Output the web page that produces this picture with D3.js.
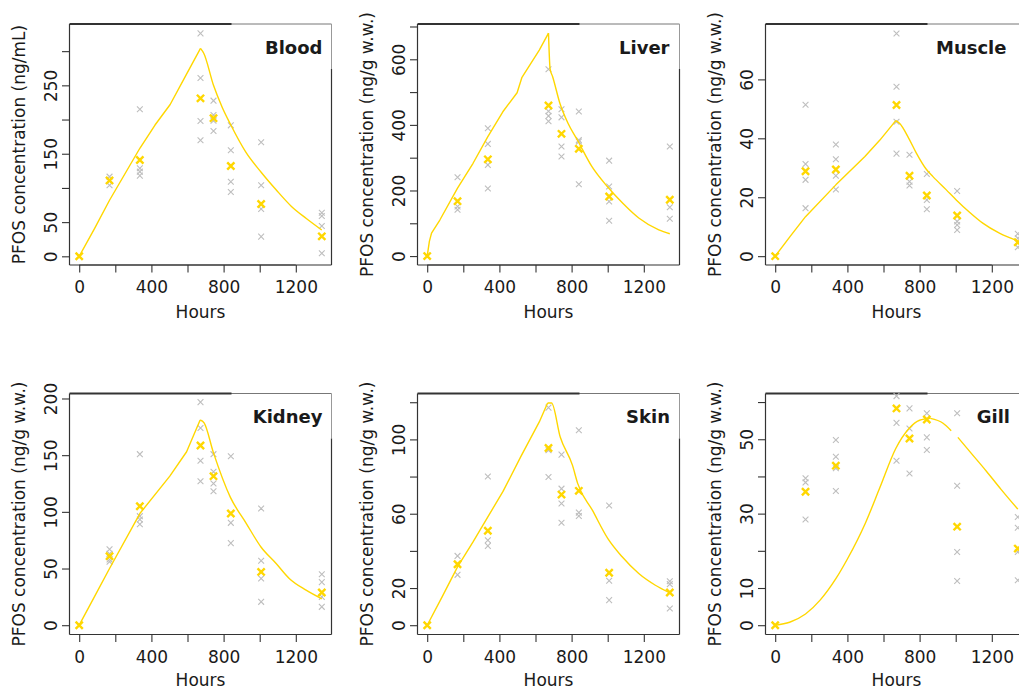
<!DOCTYPE html>
<html>
<head>
<meta charset="utf-8">
<script src="https://cdn.jsdelivr.net/npm/d3@7"></script>
<style>
  html, body { margin: 0; padding: 0; background: #ffffff; }
  svg { display: block; }
  text { font-family: "DejaVu Sans", Verdana, sans-serif; fill: #1a1a1a; }
</style>
</head>
<body>
<svg id="chart" width="1019" height="688"></svg>
<script>
// ---------------- DATA ----------------
const sampleHours = [0, 168, 336, 672, 744, 840, 1008, 1344];
const xTicks = [0, 200, 400, 600, 800, 1000, 1200];
const xTickLabels = [0, 400, 800, 1200];
const xDomain = [-53.76, 1397.76];

const tissueNames = ["Blood", "Liver", "Muscle", "Kidney", "Skin", "Gill"];
const yAxisTitles = [
  "PFOS concentration (ng/mL)",
  "PFOS concentration (ng/g w.w.)",
  "PFOS concentration (ng/g w.w.)",
  "PFOS concentration (ng/g w.w.)",
  "PFOS concentration (ng/g w.w.)",
  "PFOS concentration (ng/g w.w.)"
];

// Blood
const bloodReplicates = [[], [116.5, 110, 103.8], [215, 128.7, 123.8, 118], [326, 260.7, 197.9, 169.6],
  [227.6, 206.6, 198.3, 183.2], [191.5, 155, 109, 94], [166.7, 103.8, 69.2, 28.8], [63.8, 59, 44.3, 4.4]];
const bloodMeans = [0, 111, 140.8, 231, 202, 132, 76.5, 29.2];
const bloodModelHours = [0, 84, 168, 252, 336, 420, 504, 588, 672, 690, 744, 792, 840, 924, 1008, 1092, 1176, 1260, 1344];
const bloodModelValues = [0, 40, 82, 120, 158, 192, 222, 263, 304, 297, 250, 218, 192, 152, 123, 97, 73, 55, 38.5];
const bloodYTicks = [0, 50, 100, 150, 200, 250, 300];
const bloodYLabels = [0, 50, 150, 250];
const bloodYDomain = [-12.7, 339.7];

// Liver
const liverReplicates = [[], [240.6, 151, 141], [390, 342, 278, 206], [569.5, 441.6, 427.4, 411],
  [447.7, 423, 334, 303.6], [440.6, 354, 349, 219], [291, 212, 166.5, 107.6], [334, 149, 113.7]];
const liverMeans = [0, 167.5, 295, 459, 372.6, 327, 181.7, 171.6];
const liverModelHours = [0, 12, 24, 70, 168, 254, 336, 419, 498, 525, 621, 672, 681, 695, 735, 780, 832, 910, 998, 1085, 1172, 1283, 1344];
const liverModelValues = [0, 45, 70, 110, 207, 283, 364, 440, 498, 545, 628, 680, 570, 547, 466, 405, 354, 275, 212, 160, 116, 80, 68];
const liverYTicks = [0, 100, 200, 300, 400, 500, 600, 700];
const liverYLabels = [0, 200, 400, 600];
const liverYDomain = [-27.2, 707.6];

// Muscle
const muscleReplicates = [[], [51.4, 31.3, 25.9, 16.3], [37.9, 32.9, 27.3, 22.6], [75.6, 57.5, 45.6, 34.8],
  [34.4, 25.3, 24.0], [27.9, 19.1, 15.9], [22.1, 11.8, 10.6, 8.9], [7.6, 6.1, 3.0]];
const muscleMeans = [0, 28.8, 29.4, 51.3, 27.3, 20.6, 13.8, 4.7];
const muscleModelHours = [0, 84, 168, 336, 497, 580, 668, 690, 740, 782, 837, 874, 948, 1003, 1075, 1150, 1242, 1344];
const muscleModelValues = [0, 6.8, 13.4, 24.2, 33.8, 39.4, 46, 45, 40, 35, 29.5, 27, 22.5, 19.1, 15, 11.2, 7.8, 5.2];
const muscleYTicks = [0, 20, 40, 60];
const muscleYLabels = [0, 20, 40, 60];
const muscleYDomain = [-3.0, 78.8];

// Kidney
const kidneyReplicates = [[], [67, 63, 58, 56], [150.9, 96.2, 93.2, 89.1], [196.8, 174, 145, 127],
  [150.9, 135.3, 125, 118.2], [149, 90.3, 72.4], [103, 56.8, 41.2, 20.6], [45, 38, 25, 16.2]];
const kidneyMeans = [0, 60.9, 105, 158.5, 131.5, 98.5, 47, 28.8];
const kidneyModelHours = [0, 84, 168, 336, 502, 595, 670, 692, 744, 837, 926, 1007, 1091, 1165, 1257, 1344];
const kidneyModelValues = [0, 25, 50, 98.5, 131.5, 153, 181, 178.5, 152, 113, 89.7, 69, 54.4, 41, 30.9, 23.3];
const kidneyYTicks = [0, 50, 100, 150, 200];
const kidneyYLabels = [0, 50, 100, 150, 200];
const kidneyYDomain = [-8.2, 204.4];

// Skin
const skinReplicates = [[], [37.3, 33, 27.1], [80, 45.7, 42.7], [117.1, 94.2, 79.8],
  [91.8, 73.5, 65.5, 55.1], [104.9, 60.6, 58.8], [64.4, 28, 23.9, 13.5], [23.7, 22.1, 9]];
const skinMeans = [0, 32.8, 50.8, 95.4, 70.3, 72.3, 28.2, 17.6];
const skinModelHours = [0, 84, 168, 254, 336, 420, 520, 621, 667, 689, 737, 805, 834, 915, 1001, 1080, 1172, 1264, 1344];
const skinModelValues = [0, 15.5, 31.4, 44.8, 58.3, 72, 91, 109.4, 119.6, 119.6, 101.3, 86, 76.2, 61.9, 46.6, 36.8, 27.8, 21.5, 17.4];
const skinYTicks = [0, 20, 40, 60, 80, 100, 120];
const skinYLabels = [0, 20, 60, 100];
const skinYDomain = [-5.0, 124.7];

// Gill (the model curve has a short break near 1000 h, as in the figure)
const gillReplicates = [[], [39.5, 38.4, 28.4], [49.8, 45.3, 42.2, 36.1], [61.6, 54.4, 44.2],
  [58.3, 52.9, 40.8], [57, 50.5, 47.1], [57, 37.5, 19.7, 11.9], [29.1, 26.2, 19.7, 12.1]];
const gillMeans = [0, 35.9, 42.9, 58.3, 50.2, 55.3, 26.5, 20.6];
const gillModelHours = [0, 80, 168, 250, 336, 400, 500, 580, 668, 740, 800, 860, 930, 975, 993, 1012, 1090, 1170, 1250, 1344];
const gillModelValues = [0, 0.8, 3, 6.8, 12.5, 17.8, 27.5, 37, 47.5, 52.8, 55.1, 55.6, 54.3, 52.3, null, 50.5, 46, 41.4, 36.6, 31.2];
const gillYTicks = [0, 10, 20, 30, 40, 50, 60];
const gillYLabels = [0, 10, 30, 50];
const gillYDomain = [-2.5, 62.3];

// ---------------- ASSEMBLY ----------------
const panels = [
  { reps: bloodReplicates, means: bloodMeans, mh: bloodModelHours, mv: bloodModelValues, yt: bloodYTicks, yl: bloodYLabels, yd: bloodYDomain, smoothUptake: false },
  { reps: liverReplicates, means: liverMeans, mh: liverModelHours, mv: liverModelValues, yt: liverYTicks, yl: liverYLabels, yd: liverYDomain, smoothUptake: false },
  { reps: muscleReplicates, means: muscleMeans, mh: muscleModelHours, mv: muscleModelValues, yt: muscleYTicks, yl: muscleYLabels, yd: muscleYDomain, smoothUptake: false },
  { reps: kidneyReplicates, means: kidneyMeans, mh: kidneyModelHours, mv: kidneyModelValues, yt: kidneyYTicks, yl: kidneyYLabels, yd: kidneyYDomain, smoothUptake: false },
  { reps: skinReplicates, means: skinMeans, mh: skinModelHours, mv: skinModelValues, yt: skinYTicks, yl: skinYLabels, yd: skinYDomain, smoothUptake: false },
  { reps: gillReplicates, means: gillMeans, mh: gillModelHours, mv: gillModelValues, yt: gillYTicks, yl: gillYLabels, yd: gillYDomain, smoothUptake: true }
];

// ---------------- LAYOUT ----------------
const colLeft = [69.5, 417.5, 765.5];
const rowTop = [24, 393.5];
const boxW = 262, boxH = 241;
const titleInset = [9, 10, 21, 9, 9.5, 17.5];
const titleDrop = [30, 30, 30, 29.5, 29.5, 29.5];
const GOLD = "#FFD700";
const GREY = "#BEBEBE";
const DARK = "#333333";

const svg = d3.select("#chart");

function crossPath(a) {
  return `M${-a},${-a}L${a},${a}M${-a},${a}L${a},${-a}`;
}

panels.forEach((p, i) => {
  const row = Math.floor(i / 3);
  const left = colLeft[i % 3];
  const top = rowTop[row];
  const g = svg.append("g");

  const x = d3.scaleLinear().domain(xDomain).range([left, left + boxW]);
  const y = d3.scaleLinear().domain(p.yd).range([top + boxH, top]);

  // box (with the lighter top-right portion seen in the figure)
  g.append("line").attr("x1", left).attr("x2", left).attr("y1", top).attr("y2", top + boxH)
    .attr("stroke", DARK).attr("stroke-width", 1.2);
  g.append("line").attr("x1", left).attr("x2", left + boxW).attr("y1", top + boxH).attr("y2", top + boxH)
    .attr("stroke", DARK).attr("stroke-width", 1.2);
  g.append("line").attr("x1", left + 160).attr("x2", left + boxW).attr("y1", top).attr("y2", top)
    .attr("stroke", "#777").attr("stroke-width", 1);
  g.append("line").attr("x1", left).attr("x2", left + 162).attr("y1", top).attr("y2", top)
    .attr("stroke", DARK).attr("stroke-width", 1.8);
  g.append("line").attr("x1", left + boxW).attr("x2", left + boxW).attr("y1", top).attr("y2", top + 45)
    .attr("stroke", "#999").attr("stroke-width", 1);
  g.append("line").attr("x1", left + boxW).attr("x2", left + boxW).attr("y1", top + 45).attr("y2", top + boxH)
    .attr("stroke", DARK).attr("stroke-width", 1.2);

  // x axis
  const xAxis = d3.axisBottom(x).tickValues(xTicks).tickSize(7.5)
    .tickFormat(d => xTickLabels.includes(d) ? String(d) : "");
  const gx = g.append("g").attr("transform", `translate(0,${top + boxH})`).call(xAxis);
  gx.select(".domain").attr("stroke", DARK).attr("d", `M${x(xTicks[0])},0H${x(xTicks[xTicks.length - 1])}`);
  gx.selectAll(".tick line").attr("stroke", DARK).attr("stroke-width", 1.1);
  gx.selectAll(".tick text").attr("font-size", 17).attr("font-family", "DejaVu Sans")
    .attr("fill", "#1a1a1a").attr("y", 28.3).attr("dy", 0);

  // y axis
  const yAxis = d3.axisLeft(y).tickValues(p.yt).tickSize(7.5)
    .tickFormat(d => p.yl.includes(d) ? String(d) : "");
  const gy = g.append("g").attr("transform", `translate(${left},0)`).call(yAxis);
  gy.select(".domain").attr("stroke", DARK).attr("d", `M0,${y(p.yt[0])}V${y(p.yt[p.yt.length - 1])}`);
  gy.selectAll(".tick line").attr("stroke", DARK).attr("stroke-width", 1.1);
  gy.selectAll(".tick text")
    .attr("font-size", 17).attr("font-family", "DejaVu Sans").attr("fill", "#1a1a1a")
    .attr("x", null).attr("dy", null)
    .attr("text-anchor", "middle")
    .attr("transform", "translate(-12.2,0) rotate(-90)")
    .attr("y", 0);

  // axis titles
  g.append("text").attr("x", left + boxW / 2).attr("y", top + boxH + (row === 0 ? 53 : 51))
    .attr("text-anchor", "middle").attr("font-size", 17).text("Hours");
  g.append("text")
    .attr("transform", `translate(${left - 44.5},${top + boxH / 2}) rotate(-90)`)
    .attr("text-anchor", "middle").attr("font-size", 17).text(yAxisTitles[i]);

  // replicate points (grey crosses)
  const repPts = [];
  p.reps.forEach((vals, k) => vals.forEach(v => repPts.push([sampleHours[k], v])));
  g.selectAll(".rep").data(repPts).enter().append("path")
    .attr("d", crossPath(2.9))
    .attr("transform", d => `translate(${x(d[0])},${y(d[1])})`)
    .attr("stroke", GREY).attr("stroke-width", 1.1).attr("fill", "none");

  // model line: uptake phase up to the peak, then depuration phase
  const modelPts = p.mh.map((h, k) => [h, p.mv[k]]);
  const peakIdx = d3.maxIndex(p.mv);
  const uptake = modelPts.slice(0, peakIdx + 1);
  const depuration = modelPts.slice(peakIdx);
  const upLine = d3.line().defined(d => d[1] !== null)
    .x(d => x(d[0])).y(d => y(d[1]))
    .curve(p.smoothUptake ? d3.curveMonotoneX : d3.curveLinear);
  const downLine = d3.line().defined(d => d[1] !== null)
    .x(d => x(d[0])).y(d => y(d[1]))
    .curve(d3.curveMonotoneX);
  g.append("path").attr("d", upLine(uptake))
    .attr("fill", "none").attr("stroke", GOLD).attr("stroke-width", 1.4).attr("stroke-linejoin", "round");
  g.append("path").attr("d", downLine(depuration))
    .attr("fill", "none").attr("stroke", GOLD).attr("stroke-width", 1.4).attr("stroke-linejoin", "round");

  // means (bold gold crosses)
  g.selectAll(".mean").data(p.means.map((v, k) => [sampleHours[k], v])).enter().append("path")
    .attr("d", crossPath(3.6))
    .attr("transform", d => `translate(${x(d[0])},${y(d[1])})`)
    .attr("stroke", GOLD).attr("stroke-width", 2.4).attr("fill", "none");

  // panel title
  g.append("text")
    .attr("x", left + boxW - titleInset[i]).attr("y", top + titleDrop[i])
    .attr("text-anchor", "end").attr("font-size", 18).attr("font-weight", "bold")
    .attr("fill", "#000").text(tissueNames[i]);
});
</script>
</body>
</html>
